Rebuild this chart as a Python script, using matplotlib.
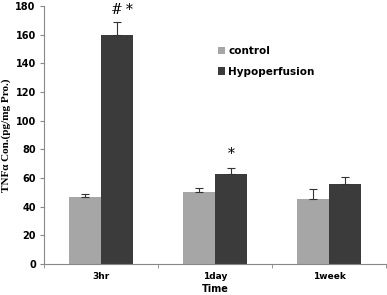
import matplotlib
matplotlib.use("Agg")
import matplotlib.pyplot as plt
import numpy as np

categories = ["3hr", "1day", "1week"]
control = [46.5, 50, 45]
control_err = [2, 3, 7]
hypo = [160, 63, 56]
hypo_err = [9, 4, 5]
series_names = ["control", "Hypoperfusion"]
y_ticks = [0, 20, 40, 60, 80, 100, 120, 140, 160, 180]

fig = plt.figure(figsize=(3.87, 2.95), dpi=100)
ax = fig.add_axes([0.114, 0.105, 0.884, 0.875])

x = np.arange(len(categories))
w = 0.28
ax.bar(x - w/2, control, w, color="#a6a6a6", label=series_names[0], zorder=2)
ax.bar(x + w/2, hypo, w, color="#3b3b3b", label=series_names[1], zorder=2)
ax.errorbar(x - w/2, control, yerr=[np.zeros(3), control_err], fmt="none",
            ecolor="#333333", elinewidth=0.8, capsize=3, capthick=0.8, zorder=3)
ax.errorbar(x + w/2, hypo, yerr=[np.zeros(3), hypo_err], fmt="none",
            ecolor="#333333", elinewidth=0.8, capsize=3, capthick=0.8, zorder=3)

ax.text(x[0] + w/2, 172, "#", ha="center", va="bottom", fontsize=10, family="DejaVu Serif")
ax.text(x[0] + w/2 + 0.11, 172, "*", ha="center", va="bottom", fontsize=10, family="DejaVu Serif")
ax.text(x[1] + w/2, 72, "*", ha="center", va="bottom", fontsize=10, family="DejaVu Serif")

ax.set_xlim(-0.5, 2.5)
ax.set_ylim(0, 180)
ax.set_yticks(y_ticks)
ax.set_xticks(x)
ax.set_xticklabels(categories, fontsize=6.5, fontweight="bold", family="DejaVu Sans")
ax.set_xticks([-0.5, 0.5, 1.5, 2.5], minor=True)
ax.tick_params(axis="x", which="major", length=0, pad=6)
ax.tick_params(axis="x", which="minor", length=3, color="#888888")
ax.tick_params(axis="y", length=3, color="#888888", labelsize=7, pad=3)
for lab in ax.get_yticklabels():
    lab.set_fontweight("bold")

for s in ["top", "right"]:
    ax.spines[s].set_visible(False)
for s in ["left", "bottom"]:
    ax.spines[s].set_color("#888888")
    ax.spines[s].set_linewidth(0.8)

ax.set_xlabel("Time", fontsize=7, fontweight="bold", labelpad=2)
ax.set_ylabel("TNFα Con.(pg/mg Pro.)", fontsize=8, fontweight="bold",
              family="Liberation Serif", labelpad=3)

ax.legend(loc="upper left", bbox_to_anchor=(0.48, 0.88), frameon=False,
          handlelength=0.7, handleheight=0.7, handletextpad=0.3, labelspacing=1.0,
          prop={"weight": "bold", "size": 7.5})

fig.savefig("out.png", dpi=100)
